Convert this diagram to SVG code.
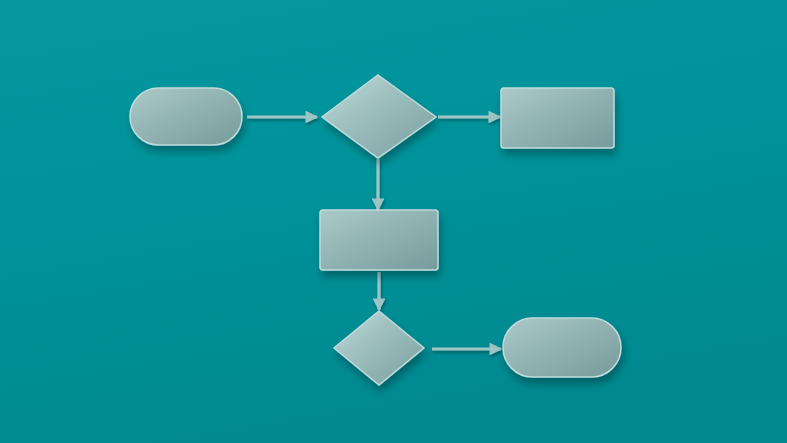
<svg xmlns="http://www.w3.org/2000/svg" width="787" height="443" viewBox="0 0 787 443">
<defs>
  <linearGradient id="bg" x1="0" y1="0" x2="0.3" y2="1">
    <stop offset="0" stop-color="#05989f"/>
    <stop offset="0.5" stop-color="#00929a"/>
    <stop offset="1" stop-color="#008990"/>
  </linearGradient>
  <linearGradient id="metal" x1="0" y1="0" x2="1" y2="1">
    <stop offset="0" stop-color="#acc9c9"/>
    <stop offset="0.3" stop-color="#9bbbbb"/>
    <stop offset="1" stop-color="#769b9c"/>
  </linearGradient>
  <linearGradient id="metalD" x1="0" y1="0" x2="1" y2="1">
    <stop offset="0" stop-color="#c3dcdc"/>
    <stop offset="0.35" stop-color="#a3c3c3"/>
    <stop offset="1" stop-color="#799d9e"/>
  </linearGradient>
  <filter id="shadow" x="-30%" y="-30%" width="160%" height="170%">
    <feGaussianBlur in="SourceAlpha" stdDeviation="4"/>
    <feOffset dx="2" dy="6" result="b"/>
    <feComponentTransfer><feFuncA type="linear" slope="0.3"/></feComponentTransfer>
    <feMerge><feMergeNode/><feMergeNode in="SourceGraphic"/></feMerge>
  </filter>
  <filter id="lshadow" filterUnits="userSpaceOnUse" x="0" y="0" width="787" height="443">
    <feGaussianBlur in="SourceAlpha" stdDeviation="1.5"/>
    <feOffset dx="1" dy="2" result="b"/>
    <feComponentTransfer><feFuncA type="linear" slope="0.35"/></feComponentTransfer>
    <feMerge><feMergeNode/><feMergeNode in="SourceGraphic"/></feMerge>
  </filter>
  <marker id="arr" viewBox="0 0 10 10" refX="9" refY="5" markerWidth="4" markerHeight="4" orient="auto" markerUnits="strokeWidth">
    <path d="M0,0 L10,5 L0,10 Z" fill="#9cc4c4"/>
  </marker>
  <style>
    .shape { fill: url(#metal); stroke: #c0dbdb; stroke-width: 1.5; filter: url(#shadow); }
    .dia { fill: url(#metalD); stroke: #c0dbdb; stroke-width: 1.5; filter: url(#shadow); }
    .conn { stroke: #9fc6c6; stroke-width: 3.2; fill: none; marker-end: url(#arr); }
  </style>
</defs>
<rect width="787" height="443" fill="url(#bg)"/>

<g id="connectors" filter="url(#lshadow)">
  <line class="conn" x1="247" y1="117" x2="317" y2="117"/>
  <line class="conn" x1="438" y1="117" x2="500" y2="117"/>
  <line class="conn" x1="378" y1="159" x2="378" y2="210"/>
  <line class="conn" x1="379" y1="272" x2="379" y2="310"/>
  <line class="conn" x1="432" y1="349" x2="501" y2="349"/>
</g>

<g id="start">
  <rect class="shape" x="130" y="88" width="112" height="57" rx="28.5"/>
</g>
<g id="decision1">
  <polygon class="dia" points="378,75 436,117 378,158 322,117"/>
</g>
<g id="process1">
  <rect class="shape" x="501" y="88" width="113" height="60" rx="3"/>
</g>
<g id="process2">
  <rect class="shape" x="320" y="210" width="118" height="60" rx="3"/>
</g>
<g id="decision2">
  <polygon class="dia" points="379,311 424,348 379,385 334,348"/>
</g>
<g id="end">
  <rect class="shape" x="503" y="318" width="118" height="59" rx="29.5"/>
</g>
</svg>
